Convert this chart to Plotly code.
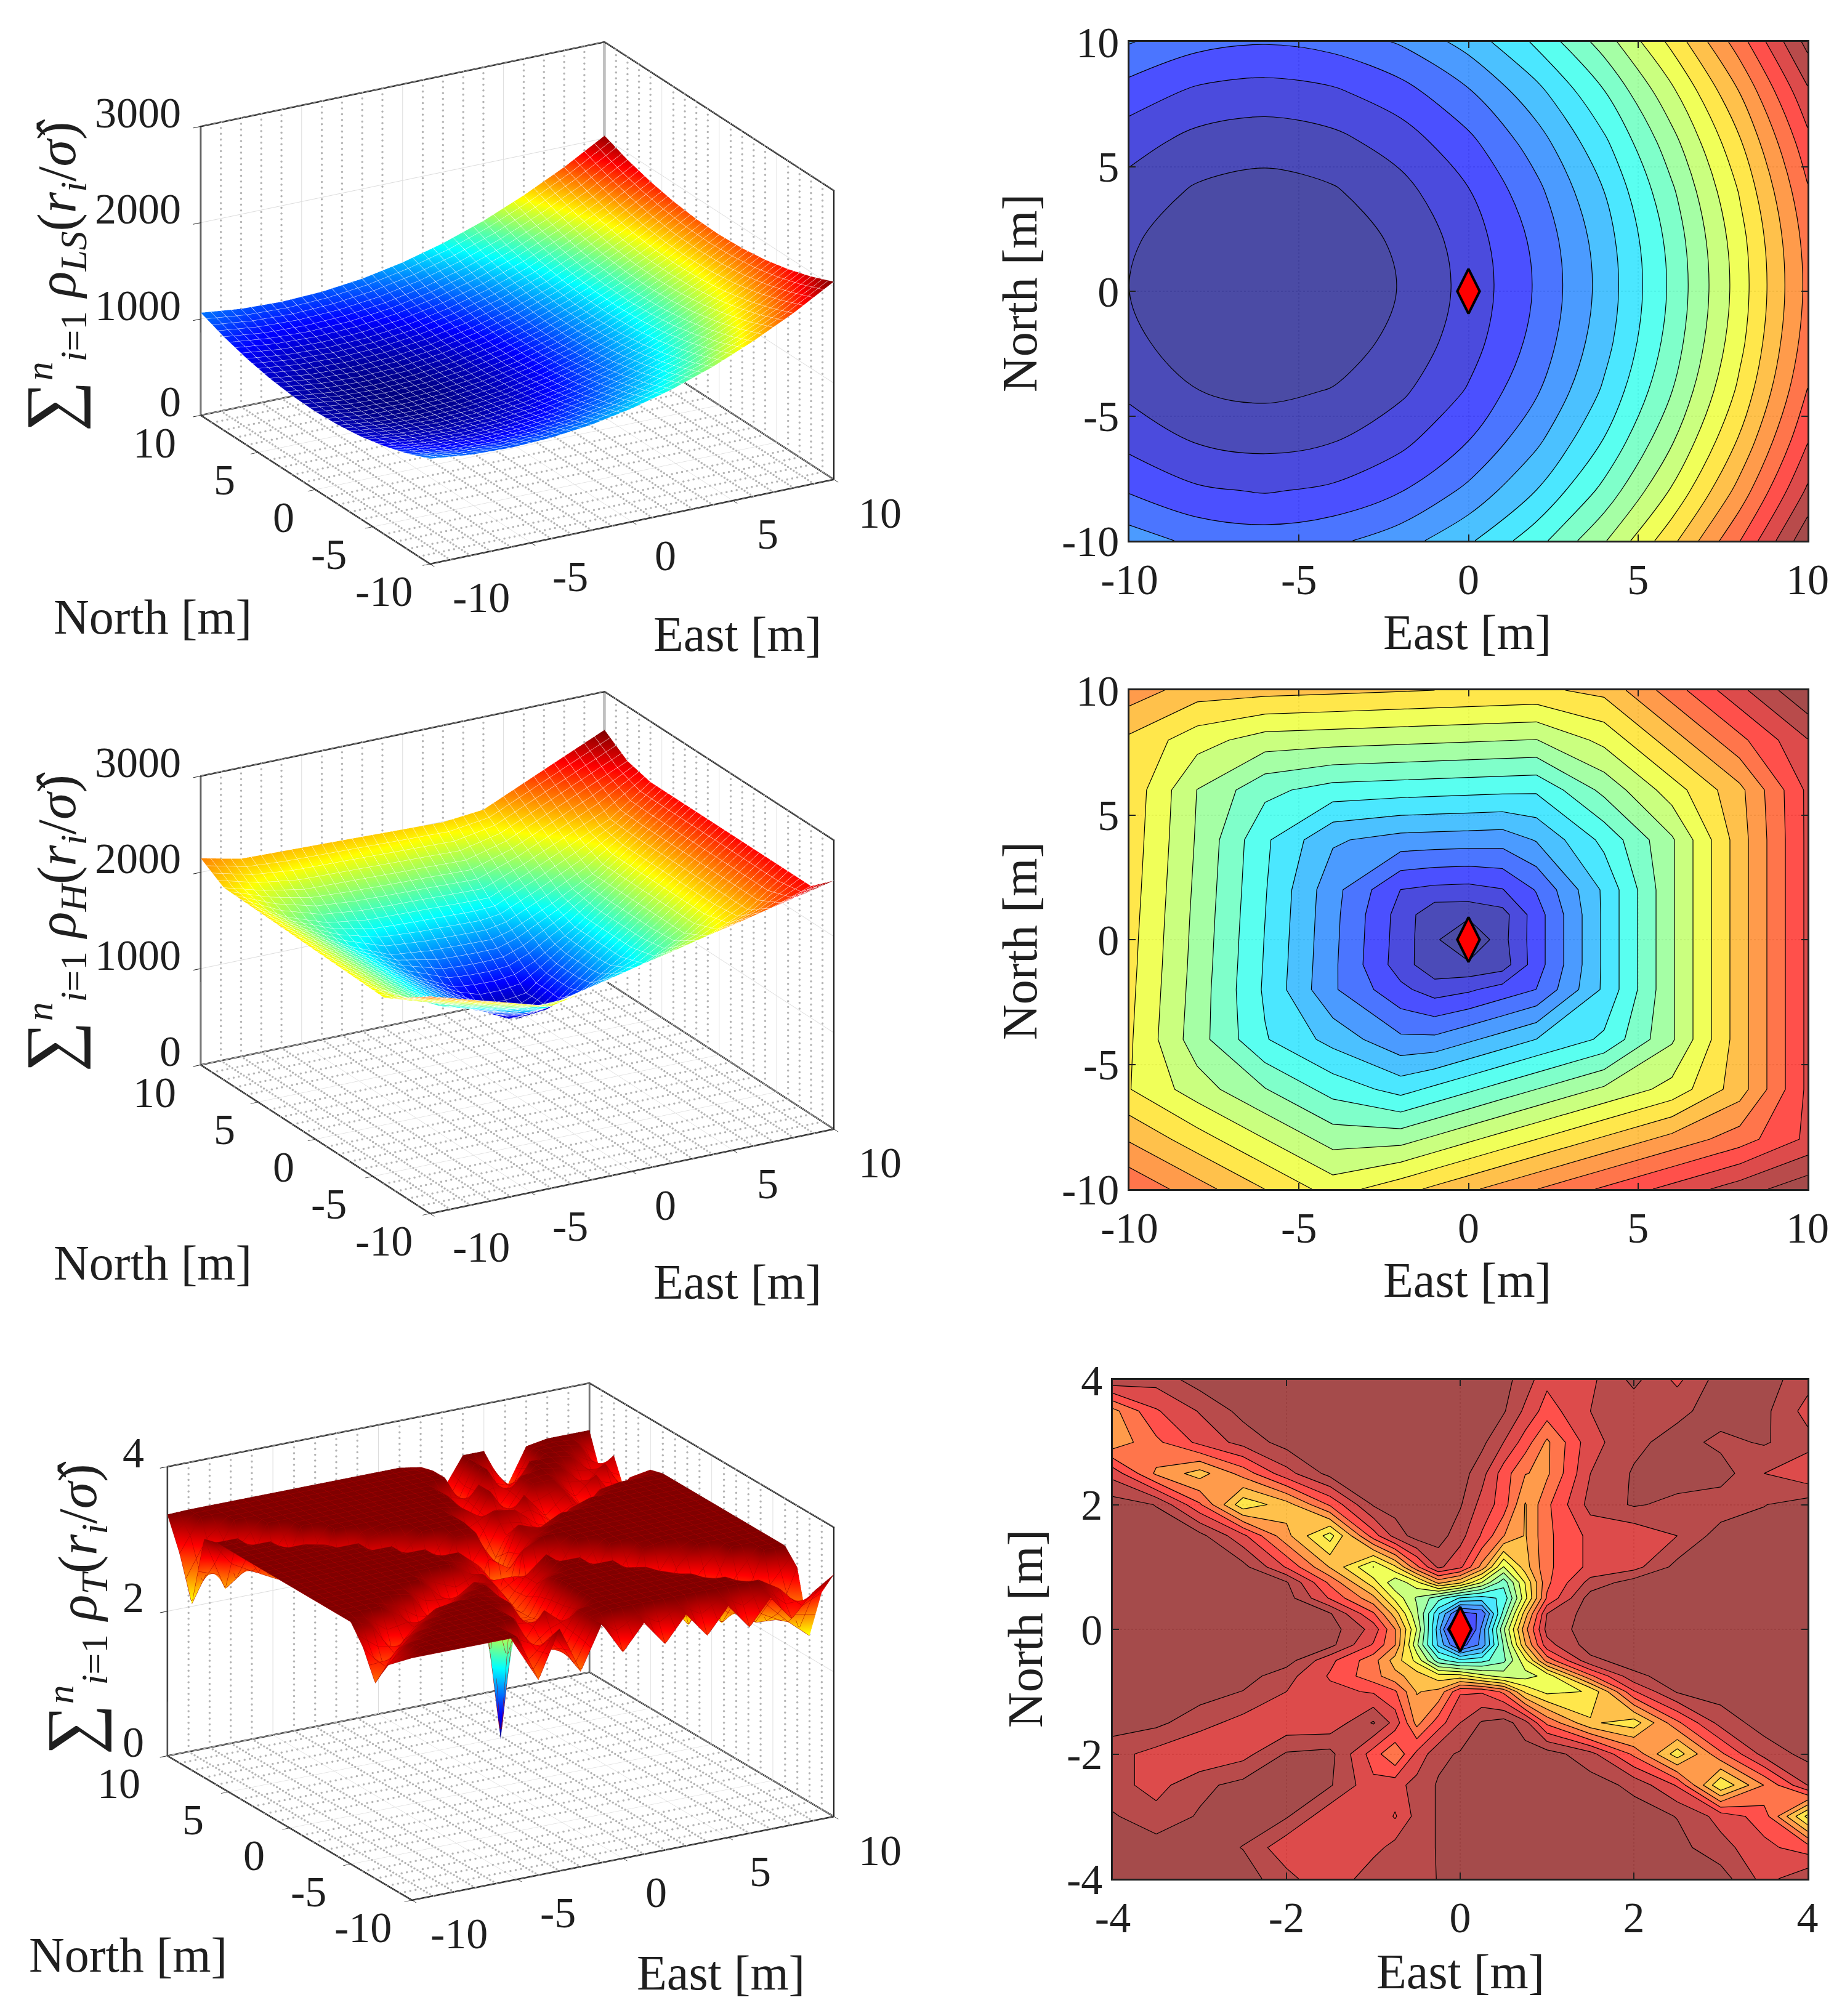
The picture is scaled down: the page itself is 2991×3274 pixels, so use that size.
import plotly.graph_objects as go

W, H = 2991, 3274
FONT = "Liberation Serif"
INK = "#1f1f1f"

jet = [[0, "#000080"], [0.125, "#0000ff"], [0.375, "#00ffff"],
       [0.625, "#ffff00"], [0.875, "#ff0000"], [1, "#800000"]]

# ---- least squares cost, East by North, -10..10 m
ls_east = [-10, -8, -6, -4, -2, 0, 2, 4, 6, 8, 10]
ls_north = [-10, -8, -6, -4, -2, 0, 2, 4, 6, 8, 10]
ls_cost = [
    [1092, 1045, 1030, 1047, 1095, 1176, 1288, 1432, 1610, 1815, 2054],
    [992, 945, 930, 947, 995, 1076, 1188, 1332, 1510, 1715, 1954],
    [914, 867, 852, 869, 917, 998, 1110, 1254, 1432, 1637, 1876],
    [857, 810, 795, 812, 860, 941, 1053, 1197, 1375, 1580, 1819],
    [823, 776, 761, 778, 826, 907, 1019, 1163, 1341, 1546, 1785],
    [809, 762, 747, 764, 812, 893, 1005, 1149, 1327, 1532, 1771],
    [817, 770, 755, 772, 820, 901, 1013, 1157, 1335, 1540, 1779],
    [847, 800, 785, 802, 850, 931, 1043, 1187, 1365, 1570, 1809],
    [898, 851, 836, 853, 901, 982, 1094, 1238, 1416, 1621, 1860],
    [970, 923, 908, 925, 973, 1054, 1166, 1310, 1488, 1693, 1932],
    [1065, 1018, 1003, 1020, 1068, 1149, 1261, 1405, 1583, 1788, 2027],
]

# ---- Huber cost
hub_east = [-10, -8, -6, -4, -2, -1, 0, 1, 2, 4, 6, 8, 10]
hub_north = [-10, -8, -6, -4, -2, -1, 0, 1, 2, 4, 6, 8, 10]
hub_cost = [
    [2255, 2133, 2012, 1890, 1980, 2031, 2081, 2131, 2181, 2281, 2381, 2481, 2581],
    [2088, 1966, 1844, 1723, 1726, 1776, 1827, 1877, 1927, 2027, 2127, 2227, 2370],
    [1931, 1799, 1677, 1555, 1472, 1522, 1572, 1623, 1673, 1773, 1873, 2058, 2370],
    [1940, 1710, 1510, 1388, 1266, 1268, 1318, 1368, 1419, 1519, 1746, 2058, 2370],
    [1949, 1720, 1490, 1260, 1099, 1038, 1064, 1114, 1164, 1434, 1746, 2058, 2370],
    [1954, 1725, 1495, 1265, 1035, 930, 925, 950, 1122, 1434, 1746, 2058, 2370],
    [1958, 1729, 1499, 1269, 1040, 925, 810, 966, 1122, 1434, 1746, 2058, 2370],
    [1963, 1733, 1504, 1273, 1044, 930, 930, 960, 1122, 1434, 1746, 2058, 2370],
    [1968, 1738, 1509, 1278, 1077, 1056, 1050, 1074, 1169, 1434, 1746, 2058, 2370],
    [1977, 1748, 1518, 1344, 1300, 1294, 1289, 1283, 1339, 1527, 1746, 2058, 2370],
    [1986, 1756, 1611, 1552, 1540, 1534, 1528, 1522, 1516, 1697, 1886, 2075, 2370],
    [1995, 1878, 1803, 1791, 1779, 1773, 1767, 1761, 1755, 1867, 2056, 2245, 2434],
    [2145, 2054, 2042, 2031, 2019, 2013, 2007, 2001, 1995, 2037, 2226, 2415, 2603],
]

# ---- Tukey cost over the whole area, 1 m steps
tuk_east = [-10, -9, -8, -7, -6, -5, -4, -3, -2, -1, 0, 1, 2, 3, 4, 5, 6, 7, 8, 9, 10]
tuk_north = [-10, -9, -8, -7, -6, -5, -4, -3, -2, -1, 0, 1, 2, 3, 4, 5, 6, 7, 8, 9, 10]
tuk_cost = [
    [3.35, 3.35, 3.35, 3.35, 3.35, 3.35, 2.7, 3.35, 2.7, 3.3, 2.85, 3.2, 2.85, 3.2, 2.85, 3.2, 2.85, 3.2, 2.85, 3.16, 3.35],
    [3.2, 3.35, 3.35, 3.35, 3.35, 3.35, 2.85, 3.1, 2.8, 3.3, 3.35, 3.35, 3.35, 3.35, 3.35, 3.35, 3.35, 3.35, 3.17, 2.86, 3.0],
    [3.05, 3.3, 3.35, 3.35, 3.35, 3.35, 3.35, 2.8, 2.85, 3.3, 3.35, 3.35, 3.35, 3.35, 3.35, 3.35, 3.35, 3.2, 2.84, 2.55, 2.3],
    [2.7, 3.1, 3.3, 3.35, 3.35, 3.35, 3.35, 2.85, 3.25, 3.0, 3.35, 3.35, 3.35, 3.35, 3.35, 3.35, 3.2, 2.83, 2.5, 2.48, 3.15],
    [3.1, 2.75, 3.1, 3.3, 3.35, 3.35, 3.35, 3.3, 2.8, 2.9, 3.35, 3.35, 3.35, 3.35, 3.35, 3.25, 2.8, 2.45, 2.66, 3.35, 3.35],
    [3.35, 3.25, 2.8, 3.1, 3.3, 3.35, 3.35, 3.3, 2.85, 2.85, 3.35, 3.35, 3.35, 3.35, 3.3, 2.77, 2.38, 2.78, 3.35, 3.35, 3.35],
    [3.35, 3.35, 3.35, 3.15, 2.8, 3.1, 3.3, 3.35, 2.8, 2.8, 3.3, 3.35, 3.35, 3.35, 2.74, 2.3, 3.07, 3.35, 3.35, 3.35, 3.35],
    [3.35, 3.35, 3.35, 3.35, 3.3, 2.85, 3.1, 3.3, 3.2, 2.8, 3.1, 3.35, 3.35, 2.7, 2.5, 3.3, 3.35, 3.35, 3.35, 3.35, 3.35],
    [3.35, 3.35, 3.35, 3.35, 3.35, 3.35, 3.05, 2.8, 3.25, 2.75, 3.1, 3.35, 2.62, 2.74, 3.33, 3.35, 3.35, 3.35, 3.35, 3.35, 3.35],
    [3.35, 3.35, 3.35, 3.35, 3.35, 3.35, 3.35, 3.35, 3.15, 3.0, 3.0, 2.3, 2.95, 3.35, 3.35, 3.35, 3.35, 3.35, 3.35, 3.35, 3.35],
    [3.35, 3.35, 3.35, 3.35, 3.35, 3.35, 3.35, 3.35, 3.35, 3.1, 0.65, 3.2, 3.35, 3.35, 3.35, 3.35, 3.35, 3.35, 3.35, 3.35, 3.35],
    [3.35, 3.35, 3.35, 3.35, 3.35, 3.35, 3.35, 3.35, 3.0, 2.2, 3.05, 2.85, 3.2, 3.35, 3.35, 3.35, 3.35, 3.35, 3.35, 3.35, 3.35],
    [3.35, 3.35, 3.35, 3.35, 3.35, 3.35, 3.35, 2.8, 2.55, 3.3, 3.3, 2.6, 3.3, 3.2, 3.35, 3.35, 3.35, 3.35, 3.35, 3.35, 3.35],
    [3.35, 3.35, 3.35, 3.35, 3.35, 3.35, 2.53, 3.05, 3.34, 3.35, 3.35, 2.5, 3.05, 3.0, 2.95, 3.25, 3.35, 3.35, 3.35, 3.35, 3.35],
    [3.35, 3.35, 3.35, 3.35, 3.29, 2.3, 3.25, 3.35, 3.35, 3.35, 3.35, 2.8, 3.3, 3.25, 3.0, 2.9, 3.0, 3.3, 3.35, 3.35, 3.35],
    [3.35, 3.35, 3.35, 3.07, 2.51, 3.35, 3.35, 3.35, 3.35, 3.35, 3.35, 3.3, 3.1, 2.9, 3.3, 2.95, 3.2, 2.85, 2.9, 3.25, 3.3],
    [3.35, 3.35, 2.81, 2.66, 3.35, 3.35, 3.35, 3.35, 3.35, 3.35, 3.35, 3.35, 2.8, 3.3, 2.85, 3.3, 3.3, 3.0, 3.25, 2.8, 3.05],
    [3.3, 2.55, 2.76, 3.35, 3.35, 3.35, 3.35, 3.35, 3.35, 3.35, 3.35, 3.35, 2.9, 3.3, 2.95, 3.3, 3.35, 3.3, 3.0, 3.25, 2.75],
    [2.3, 2.85, 3.35, 3.35, 3.35, 3.35, 3.35, 3.35, 3.35, 3.35, 3.35, 3.35, 3.35, 2.8, 3.35, 2.85, 3.35, 3.35, 3.3, 3.0, 3.2],
    [2.9, 3.35, 3.35, 3.35, 3.35, 3.35, 3.35, 3.35, 3.35, 3.35, 3.35, 3.35, 3.35, 2.75, 3.35, 3.0, 2.9, 3.35, 3.35, 3.3, 2.8],
    [3.34, 3.35, 3.35, 3.35, 3.35, 3.35, 3.35, 3.35, 3.35, 3.35, 3.35, 3.35, 3.3, 2.9, 3.35, 3.35, 2.75, 3.3, 3.35, 3.35, 3.35],
]

# ---- Tukey cost near the origin
zoom_east = [-4, -3.5, -3, -2.5, -2, -1.5, -1, -0.75, -0.5, -0.25, 0, 0.25, 0.5, 0.75, 1, 1.5, 2, 2.5, 3, 3.5, 4]
zoom_north = [-4, -3.5, -3, -2.5, -2, -1.5, -1, -0.75, -0.5, -0.25, 0, 0.25, 0.5, 0.75, 1, 1.5, 2, 2.5, 3, 3.5, 4]
zoom_cost = [
    [3.35, 3.35, 3.35, 3.35, 3.2, 3.02, 3.25, 3.2, 3.15, 3.3, 3.35, 3.35, 3.35, 3.35, 3.35, 3.35, 3.35, 3.35, 3.35, 3.1, 3.25],
    [3.35, 3.35, 3.35, 3.28, 3.05, 3.15, 3.1, 3.2, 3.2, 3.3, 3.35, 3.35, 3.35, 3.35, 3.35, 3.35, 3.35, 3.33, 3.2, 3.05, 2.95],
    [3.3, 3.2, 3.3, 3.35, 3.3, 3.05, 3.15, 3.0, 3.2, 3.3, 3.35, 3.35, 3.35, 3.35, 3.35, 3.35, 3.35, 3.28, 3.1, 2.95, 2.3],
    [3.2, 3.1, 3.25, 3.33, 3.35, 3.3, 3.05, 3.1, 3.2, 3.3, 3.33, 3.35, 3.35, 3.35, 3.35, 3.35, 3.25, 3.0, 2.35, 2.75, 3.15],
    [3.2, 3.1, 3.02, 3.1, 3.3, 3.33, 2.95, 2.75, 3.05, 3.25, 3.3, 3.35, 3.35, 3.35, 3.35, 3.2, 2.85, 2.4, 2.85, 3.2, 3.33],
    [3.35, 3.32, 3.2, 3.1, 3.05, 3.05, 3.3, 3.1, 2.7, 2.95, 3.15, 3.3, 3.35, 3.2, 2.85, 2.5, 2.4, 2.85, 3.2, 3.35, 3.35],
    [3.35, 3.35, 3.35, 3.28, 3.15, 3.05, 3.0, 2.9, 2.6, 2.65, 3.0, 3.0, 2.85, 2.45, 2.3, 2.35, 3.0, 3.3, 3.35, 3.35, 3.35],
    [3.35, 3.35, 3.35, 3.35, 3.2, 3.0, 2.8, 2.65, 2.55, 2.4, 2.4, 2.25, 2.15, 2.15, 2.25, 2.85, 3.25, 3.35, 3.35, 3.35, 3.35],
    [3.35, 3.35, 3.35, 3.35, 3.35, 3.05, 2.8, 2.55, 2.3, 1.85, 1.7, 1.75, 1.9, 2.3, 2.8, 3.25, 3.35, 3.35, 3.35, 3.35, 3.35],
    [3.35, 3.35, 3.35, 3.35, 3.35, 3.33, 3.0, 2.75, 2.1, 1.5, 1.05, 1.3, 1.95, 2.6, 3.1, 3.35, 3.35, 3.35, 3.35, 3.35, 3.35],
    [3.35, 3.35, 3.35, 3.35, 3.35, 3.35, 3.1, 2.75, 2.2, 1.45, 0.65, 1.3, 2.05, 2.7, 3.2, 3.35, 3.35, 3.35, 3.35, 3.35, 3.35],
    [3.35, 3.35, 3.35, 3.35, 3.35, 3.3, 2.9, 2.55, 2.1, 1.55, 1.05, 1.15, 1.85, 2.55, 3.15, 3.35, 3.35, 3.35, 3.35, 3.35, 3.35],
    [3.35, 3.35, 3.35, 3.35, 3.35, 3.0, 2.65, 2.3, 2.05, 1.85, 1.65, 1.6, 1.7, 2.3, 2.9, 3.35, 3.35, 3.35, 3.35, 3.35, 3.35],
    [3.35, 3.35, 3.35, 3.35, 3.3, 2.85, 2.4, 2.1, 2.3, 2.65, 2.5, 2.2, 1.85, 2.35, 2.85, 3.2, 3.35, 3.35, 3.35, 3.35, 3.35],
    [3.35, 3.35, 3.35, 3.33, 3.0, 2.6, 2.2, 2.45, 2.85, 3.18, 3.05, 2.7, 2.2, 2.55, 2.85, 3.05, 3.1, 3.33, 3.35, 3.35, 3.35],
    [3.35, 3.35, 3.33, 3.05, 2.65, 2.28, 2.95, 3.2, 3.35, 3.35, 3.2, 3.0, 2.75, 2.6, 2.85, 3.05, 3.05, 3.15, 3.35, 3.35, 3.35],
    [3.35, 3.28, 2.9, 2.38, 2.55, 2.9, 3.3, 3.35, 3.35, 3.35, 3.3, 3.1, 2.95, 2.6, 2.85, 3.2, 3.3, 3.25, 3.2, 3.28, 3.35],
    [3.1, 2.72, 2.55, 2.8, 3.1, 3.33, 3.35, 3.35, 3.35, 3.35, 3.35, 3.2, 2.95, 2.75, 2.72, 3.15, 3.3, 3.35, 3.35, 3.15, 3.05],
    [2.65, 2.85, 3.05, 3.2, 3.34, 3.35, 3.35, 3.35, 3.35, 3.35, 3.35, 3.32, 3.15, 2.95, 2.72, 3.1, 3.25, 3.34, 3.25, 3.3, 3.2],
    [2.7, 3.0, 3.16, 3.33, 3.35, 3.35, 3.35, 3.35, 3.35, 3.35, 3.35, 3.35, 3.3, 3.12, 2.95, 3.15, 3.2, 3.25, 3.35, 3.32, 3.1],
    [3.25, 3.2, 3.35, 3.35, 3.35, 3.35, 3.35, 3.35, 3.35, 3.35, 3.35, 3.35, 3.33, 3.22, 3.05, 3.12, 3.32, 3.12, 3.35, 3.35, 3.2],
]

wide_ticks = [-10, -5, 0, 5, 10]
wide_labels = ["-10", "-5", "0", "5", "10"]
near_ticks = [-4, -2, 0, 2, 4]
near_labels = ["-4", "-2", "0", "2", "4"]
receiver_east = [0]
receiver_north = [0]

CAM_DIST = 3
SCALE_A = 1.676
SCALE_B = 1.76
fig = go.Figure()
notes = []


def px_x(v):
    return v / W


def px_y(v):
    return 1 - v / H


def label(text, x, y, size=80, angle=0):
    notes.append(dict(text=text, x=px_x(x), y=px_y(y), xref="paper", yref="paper", showarrow=False,
                      textangle=angle, font=dict(family=FONT, size=size, color=INK),
                      xanchor="center", yanchor="middle"))


def wall_lines(name, zmax):
    # box edges and the dotted 1 m grid, all from the axis limits
    lo, hi = -10, 10
    minor = [t for t in range(-9, 10) if t % 5]
    along = [lo + 0.25 * i for i in range(81)]
    up = [zmax * i / 50 for i in range(51)]
    gx, gy, gz = [], [], []
    for t in minor:
        gx += [t] * len(up) + [hi] * len(up) + [t] * len(along) + along
        gy += [hi] * len(up) + [t] * len(up) + along + [t] * len(along)
        gz += up + up + [0] * (2 * len(along))
    fig.add_trace(go.Scatter3d(x=gx, y=gy, z=gz, mode="markers", scene=name, hoverinfo="skip", showlegend=False,
                               marker=dict(color="#b4b4b4", size=2, line=dict(width=0))))
    ex = [lo, lo, hi, hi, hi, None, hi, hi, None, lo, lo, hi, hi, None, lo, hi, hi, None, lo, hi]
    ey = [hi, hi, hi, lo, lo, None, hi, hi, None, hi, lo, lo, lo, None, hi, hi, lo, None, lo, lo]
    ez = [0, zmax, zmax, zmax, 0, None, 0, zmax, None, 0, 0, 0, 0, None, 0, 0, 0, None, 0, 0]
    fig.add_trace(go.Scatter3d(x=ex, y=ey, z=ez, mode="lines", scene=name, hoverinfo="skip", showlegend=False,
                               line=dict(color=INK, width=5)))


def scene_layout(box, ztop, zticks, zlabels, zaspect, view, scale, x_nudge, y_nudge, z_nudge):
    left, top, right, bottom = box
    axis = dict(range=[-10, 10], tickvals=wide_ticks, showticklabels=False, title=dict(text=""),
                showbackground=False, showgrid=True, gridcolor="#dcdcdc", gridwidth=2, zeroline=False,
                showline=False, ticks="outside", ticklen=14, tickcolor=INK, tickwidth=2, showspikes=False)
    tickfont = dict(family=FONT, size=70, color=INK)
    ann = []
    for t, s, nx, ny in zip(wide_ticks, wide_labels, x_nudge, y_nudge):
        ann.append(dict(x=t, y=-10, z=0, text=s, showarrow=False, font=tickfont, xshift=nx, yshift=-55))
        ann.append(dict(x=-10, y=t, z=0, text=s, showarrow=False, font=tickfont, xshift=ny, yshift=-45))
    for t, s in zip(zticks, zlabels):
        ann.append(dict(x=-10, y=10, z=t, text=s, showarrow=False, font=tickfont, xanchor="right", xshift=z_nudge, yshift=22))
    return dict(
        domain=dict(x=[px_x(left), px_x(right)], y=[px_y(bottom), px_y(top)]),
        xaxis=axis, yaxis=axis,
        zaxis={**axis, "range": [0, ztop], "tickvals": zticks},
        aspectmode="manual", aspectratio=dict(x=scale, y=scale, z=zaspect * scale),
        camera=dict(projection=dict(type="orthographic"), up=dict(x=0, y=0, z=1), center=dict(x=0, y=0, z=0),
                    eye=dict(x=view[0] * CAM_DIST, y=view[1] * CAM_DIST, z=view[2] * CAM_DIST)),
        annotations=ann,
    )


def add_surface(name, east, north, cost, lo, hi, mesh="#ffffff", step=0.5):
    line = dict(show=True, start=-10, end=10, size=step, color=mesh, width=1)
    fig.add_trace(go.Surface(x=east, y=north, z=cost, scene=name, colorscale=jet, cmin=lo, cmax=hi, showscale=False,
                             contours=dict(x=line, y=line), hoverinfo="skip",
                             lighting=dict(ambient=1, diffuse=0, specular=0, fresnel=0)))


def add_contours(n, east, north, cost, lo, hi, start, step, smooth):
    ax = dict(xaxis=f"x{n}", yaxis=f"y{n}")
    levels = dict(start=start, end=hi, size=step)
    fig.add_trace(go.Contour(x=east, y=north, z=cost, colorscale=jet, zmin=lo, zmax=hi, showscale=False, opacity=0.7,
                             contours=dict(coloring="fill", showlines=False, **levels), line=dict(width=0, smoothing=smooth),
                             hoverinfo="skip", **ax))
    fig.add_trace(go.Contour(x=east, y=north, z=cost, showscale=False, contours=dict(coloring="none", **levels),
                             line=dict(color="#000000", width=1.2, smoothing=smooth), hoverinfo="skip", **ax))
    fig.add_trace(go.Scatter(x=receiver_east, y=receiver_north, mode="markers", hoverinfo="skip", showlegend=False,
                             marker=dict(symbol="diamond-tall", size=52, color="#ff0000", line=dict(color="#000000", width=4)), **ax))


def flat_axes(n, box, ticks, labels):
    left, top, right, bottom = box
    common = dict(range=[ticks[0], ticks[-1]], tickvals=ticks, ticktext=labels, ticks="inside", ticklen=10, tickwidth=2,
                  tickcolor=INK, showline=True, linecolor=INK, linewidth=2.5, mirror="ticks", zeroline=False,
                  showgrid=True, gridcolor="rgba(90,90,90,0.22)", gridwidth=1.5, griddash="dot",
                  tickfont=dict(family=FONT, size=70, color=INK), tickangle=0)
    fig.update_layout({
        f"xaxis{n}": dict(domain=[px_x(left), px_x(right)], anchor=f"y{n}", **common),
        f"yaxis{n}": dict(domain=[px_y(bottom), px_y(top)], anchor=f"x{n}", **common),
    })


view_a = (-0.459, -0.808, 0.368)
view_b = (-0.471, -0.813, 0.342)

# left column
wall_lines("scene", 3000)
add_surface("scene", ls_east, ls_north, ls_cost, 747, 2054)
wall_lines("scene2", 3000)
add_surface("scene2", hub_east, hub_north, hub_cost, 810, 2603)
wall_lines("scene3", 4)
add_surface("scene3", tuk_east, tuk_north, tuk_cost, 0.65, 3.35, mesh="#a80000")

z3000 = [0, 1000, 2000, 3000]
z3000_labels = ["0", "1000", "2000", "3000"]
x_shift_a = [83, 64, 54, 56, 75]
y_shift_a = [-75, -71, -52, -54, -75]
x_shift_b = [77, 66, 54, 52, 75]
y_shift_b = [-79, -69, -58, -58, -79]
fig.update_layout(
    scene=scene_layout((240, 42, 1440, 942), 3000, z3000, z3000_labels, 0.669, view_a, SCALE_A, x_shift_a, y_shift_a, -30),
    scene2=scene_layout((240, 1097, 1440, 1997), 3000, z3000, z3000_labels, 0.669, view_a, SCALE_A, x_shift_a, y_shift_a, -30),
    scene3=scene_layout((213, 2216, 1413, 3116), 4, [0, 2, 4], ["0", "2", "4"], 0.631, view_b, SCALE_B, x_shift_b, y_shift_b, -36),
)

# right column
add_contours(1, ls_east, ls_north, ls_cost, 747, 2054, 809, 63, 1)
add_contours(2, hub_east, hub_north, hub_cost, 810, 2603, 908, 85, 0)
add_contours(3, zoom_east, zoom_north, zoom_cost, 0.65, 3.35, 0.72, 0.135, 0)
flat_axes(1, (1834, 68, 2935, 878), wide_ticks, wide_labels)
flat_axes(2, (1834, 1121, 2935, 1931), wide_ticks, wide_labels)
flat_axes(3, (1807, 2241, 2935, 3051), near_ticks, near_labels)

# axis titles and the cost labels
sum_open = "<span style=\"font-size:116px\">\u2211</span><sup><i>n</i></sup><sub><i>i</i>=1</sub> <i>\u03c1</i>"
close = "(<i>r<sub>i</sub></i>/<i>\u03c3\u0302</i>)"
label(sum_open + "<sub><i>LS</i></sub>" + close, 86, 448, 88, -90)
label(sum_open + "<sub><i>H</i></sub>" + close, 86, 1498, 88, -90)
label(sum_open + "<sub><i>T</i></sub>" + close, 120, 2612, 88, -90)
for x, y in [(248, 1002), (248, 2051), (208, 3175)]:
    label("North [m]", x, y)
for x, y in [(1197, 1030), (1197, 2082), (1170, 3204)]:
    label("East [m]", x, y)
for x, y in [(2382, 1027), (2382, 2079), (2371, 3202)]:
    label("East [m]", x, y)
for x, y in [(1656, 476), (1656, 1528), (1665, 2645)]:
    label("North [m]", x, y, angle=-90)

fig.update_layout(width=W, height=H, margin=dict(l=0, r=0, t=0, b=0, autoexpand=False), paper_bgcolor="#ffffff",
                  plot_bgcolor="#ffffff", showlegend=False, annotations=notes, hovermode=False)

fig.write_html("out.html", config={"displayModeBar": False}, post_script="document.body.style.margin='0';")
